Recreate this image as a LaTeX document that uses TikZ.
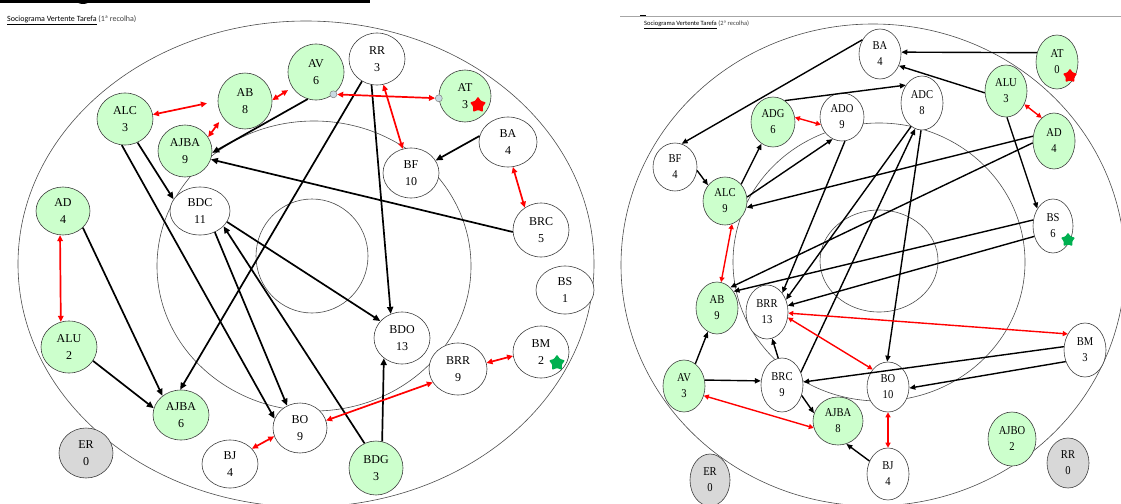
\documentclass[tikz,border=0pt]{standalone}
\usepackage{fontspec}
\setmainfont{Liberation Serif}
\newfontfamily\tfont{Carlito}
\newfontfamily\rfont[FakeStretch=0.88]{Liberation Serif}
\usetikzlibrary{shapes.geometric,arrows.meta}
\definecolor{lgreen}{RGB}{204,255,204}
\definecolor{lgray}{RGB}{216,216,216}
\definecolor{sgreen}{RGB}{0,176,80}
\definecolor{hcol}{RGB}{200,218,226}
\begin{document}
\begin{tikzpicture}[x=1pt,y=-1pt,
  nd/.style={ellipse, draw=black!75, line width=0.6pt, inner sep=0pt, align=center, font=\fontsize{12}{16.5}\selectfont},
  rnd/.style={nd, font=\rfont\fontsize{12}{16}\selectfont},
  gf/.style={fill=lgreen}, wf/.style={fill=white}, ef/.style={fill=lgray},
  sz/.style 2 args={minimum width=#1pt, minimum height=#2pt},
  ring/.style={draw=black!70, line width=0.6pt},
  bk/.style={draw=black, line width=1.7pt, -{Triangle[length=7pt,width=6pt]}},
  rbk/.style={draw=black, line width=1.4pt, -{Triangle[length=6pt,width=5pt]}},
  rd/.style={draw=red, line width=1.7pt, {Triangle[length=6pt,width=5.5pt]}-{Triangle[length=6pt,width=5.5pt]}},
  rrd/.style={draw=red, line width=1.4pt, {Triangle[length=5pt,width=5pt]}-{Triangle[length=5pt,width=5pt]}},
  handle/.style={circle, draw=black!50, fill=hcol, line width=0.5pt, inner sep=0pt, minimum size=7pt},
  starmark/.style={star, star points=5, star point ratio=1.7, inner sep=0pt, minimum size=17pt, rounded corners=1pt}
]
\useasboundingbox (0,0) rectangle (1121,503);
% header remnants
\fill[black] (0,0) rectangle (370,3);
\fill[black] (76,0) arc[start angle=180, end angle=360, x radius=7pt, y radius=4pt] -- cycle;
\draw[black!35, line width=0.8pt] (620,16) -- (1121,16);
\draw[black, line width=1pt] (640,15.5) -- (646,15.5);
% titles
\node[anchor=west, inner sep=0pt, font=\tfont\fontsize{8}{9}\selectfont] (t1) at (7,20) {\underline{Sociograma Vertente Tarefa} \textcolor{black!75}{(1ª recolha)}};
\node[anchor=west, inner sep=0pt, font=\tfont\fontsize{6.5}{8}\selectfont] (t2) at (644,25) {\underline{Sociograma Vertente Tarefa} \textcolor{black!75}{(2ª recolha)}};
% rings left
\draw[ring] (306,264) ellipse [x radius=288pt, y radius=243pt];
\draw[ring] (314,266) ellipse [x radius=157pt, y radius=145pt];
\draw[ring] (312,256) ellipse [x radius=56pt, y radius=57pt];
% rings right
\draw[ring] (873,265) ellipse [x radius=252pt, y radius=241pt];
\draw[ring] (879,262) ellipse [x radius=146pt, y radius=139pt];
\draw[ring] (879,261) ellipse [x radius=59pt, y radius=51pt];
% left nodes
\node[nd,gf,sz={56}{56}] (lAV) at (316,72) {AV\\6};
\node[nd,wf,sz={56}{52}] (lRR) at (377,59) {RR\\3};
\node[nd,gf,sz={52}{52}] (lAT) at (465,96) {AT\\3};
\node[nd,wf,sz={58}{50}] (lBA) at (508,142) {BA\\4};
\node[nd,wf,sz={56}{50}] (lBF) at (411,173) {BF\\10};
\node[nd,wf,sz={56}{54}] (lBRC) at (541,230) {BRC\\5};
\node[nd,wf,sz={58}{48}] (lBS) at (565,290) {BS\\1};
\node[nd,wf,sz={56}{52}] (lBM) at (541,352) {BM\\2};
\node[nd,wf,sz={58}{52}] (lBRR) at (458,369) {BRR\\9};
\node[nd,wf,sz={56}{52}] (lBDO) at (402,338) {BDO\\13};
\node[nd,wf,sz={54}{50}] (lBO) at (300,428) {BO\\9};
\node[nd,gf,sz={54}{54}] (lBDG) at (376,468) {BDG\\3};
\node[nd,wf,sz={56}{48}] (lBJ) at (230,464) {BJ\\4};
\node[nd,ef,sz={54}{50}] (lER) at (86,453) {ER\\0};
\node[nd,gf,sz={56}{50}] (lAJBAb) at (181,415) {AJBA\\6};
\node[nd,gf,sz={56}{52}] (lALU) at (69,347) {ALU\\2};
\node[nd,gf,sz={54}{48}] (lAD) at (63,211) {AD\\4};
\node[nd,wf,sz={60}{48}] (lBDC) at (200,211) {BDC\\11};
\node[nd,gf,sz={54}{52}] (lAJBA) at (185,151) {AJBA\\9};
\node[nd,gf,sz={56}{52}] (lALC) at (125,119) {ALC\\3};
\node[nd,gf,sz={54}{56}] (lAB) at (245,101) {AB\\8};
% left marks
\node[starmark, fill=red] (ls1) at (478,105) {};
\node[starmark, fill=sgreen] (ls2) at (557,363) {};
% left handles
\node[handle] (lh1) at (lAV.-52) {};
\node[handle] (lh2) at (lAT.185) {};
% left black arrows
\draw[bk] (lAV.253) -- (lAJBA.-4);
\draw[bk] (lBRC.184) -- (lAJBA.-18);
\draw[bk] (lBA.168) -- (lBF.27);
\draw[bk] (lALC.-62) -- (lBDC.156);
\draw[bk] (lALC.263) -- (lBO.160);
\draw[bk] (lRR.236) -- (lAJBAb.92);
\draw[bk] (lRR.258) -- (lBDO.115);
\draw[bk] (lBDC.-22) -- (lBDO.142);
\draw[bk] (lBDC.305) -- (lBO.120);
\draw[bk] (lBDG.115) -- (lBDC.-33);
\draw[bk] (lBDG.77) -- (lBDO.228);
\draw[bk] (lAD.-40) -- (lAJBAb.134);
\draw[bk] (lALU.-30) -- (lAJBAb.166);
% left red arrows
\draw[rd, shorten >=11pt] (lALC.9) -- (lAB.west);
\draw[rd, shorten >=5pt] (lAB.2) -- (lAV.213);
\draw[rd, shorten >=6pt] (lAJBA.31) -- (lAB.216);
\draw[rd] (lh1) -- (lh2);
\draw[rd] (lRR.-76) -- (lBF.109);
\draw[rd] (lBA.-79) -- (lBRC.126);
\draw[rd] (lBRR.12) -- (lBM.188);
\draw[rd] (lBO.16) -- (lBRR.208);
\draw[rd] (lBJ.35) -- (lBO.198);
\draw[rd] (lAD.263) -- (lALU.108);
% right nodes
\node[rnd,wf,sz={42}{50}] (rBA) at (880,54) {BA\\4};
\node[rnd,gf,sz={42}{54}] (rAT) at (1057,62) {AT\\0};
\node[rnd,gf,sz={42}{52}] (rALU) at (1006,91) {ALU\\3};
\node[rnd,gf,sz={42}{56}] (rAD) at (1054,141) {AD\\4};
\node[rnd,wf,sz={42}{54}] (rADC) at (922,103) {ADC\\8};
\node[rnd,wf,sz={40}{54}] (rBS) at (1053,226) {BS\\6};
\node[rnd,wf,sz={44}{48}] (rADO) at (842,117) {ADO\\9};
\node[rnd,gf,sz={44}{50}] (rADG) at (773,122) {ADG\\6};
\node[rnd,wf,sz={44}{48}] (rBF) at (675,167) {BF\\4};
\node[rnd,gf,sz={44}{48}] (rALC) at (725,201) {ALC\\9};
\node[rnd,gf,sz={42}{52}] (rAB) at (717,308) {AB\\9};
\node[rnd,wf,sz={42}{54}] (rBRR) at (767,312) {BRR\\13};
\node[rnd,gf,sz={42}{52}] (rAV) at (684,386) {AV\\3};
\node[rnd,wf,sz={42}{54}] (rBRC) at (782,385) {BRC\\9};
\node[rnd,gf,sz={50}{48}] (rAJBA) at (838,421) {AJBA\\8};
\node[rnd,wf,sz={42}{50}] (rBO) at (888,387) {BO\\10};
\node[rnd,wf,sz={42}{52}] (rBJ) at (888,474) {BJ\\4};
\node[rnd,ef,sz={40}{52}] (rER) at (710,480) {ER\\0};
\node[rnd,wf,sz={42}{54}] (rBM) at (1085,350) {BM\\3};
\node[rnd,gf,sz={48}{54}] (rAJBO) at (1012,439) {AJBO\\2};
\node[rnd,ef,sz={42}{50}] (rRR) at (1068,463) {RR\\0};
% right marks
\node[starmark, fill=red, minimum size=15pt] (rs1) at (1070,76) {};
\node[starmark, fill=sgreen, minimum size=15pt] (rs2) at (1068,240) {};
% right black arrows
\draw[rbk] (rAT.155) -- (rBA.5);
\draw[rbk] (rALU.185) -- (rBA.-32);
\draw[rbk] (rBA.141) -- (rBF.74);
\draw[rbk] (rADG.61) -- (rADC.132);
\draw[rbk] (rBF.-9) -- (rALC.137);
\draw[rbk] (rALC.46) -- (rADG.242);
\draw[rbk] (rALC.10) -- (rADO.247);
\draw[rbk] (rAD.167) -- (rALC.-17);
\draw[rbk] (rAD.185) -- (rAB.57);
\draw[rbk] (rALU.-88) -- (rBS.132);
\draw[rbk] (rBS.163) -- (rAB.45);
\draw[rbk] (rBS.209) -- (rBRR.17);
\draw[rbk] (rADO.-83) -- (rBRR.51);
\draw[rbk] (rADC.245) -- (rBRR.33);
\draw[rbk] (rBRC.34) -- (rADC.255);
\draw[rbk] (rADC.268) -- (rBO.92);
\draw[rbk] (rBM.171) -- (rBRC.8);
\draw[rbk] (rBM.211) -- (rBO.-3);
\draw[rbk] (rAV.16) -- (rBRC.169);
\draw[rbk] (rAV.63) -- (rAB.249);
\draw[rbk] (rBRC.98) -- (rBRR.281);
\draw[rbk] (rBRC.-28) -- (rAJBA.162);
\draw[rbk] (rBJ.145) -- (rAJBA.290);
% right red arrows
\draw[rrd] (rADG.12) -- (rADO.200);
\draw[rrd] (rALU.-36) -- (rAD.118);
\draw[rrd] (rALC.-73) -- (rAB.81);
\draw[rrd] (rBRR.-3) -- (rBM.137);
\draw[rrd] (rBRR.-15) -- (rBO.131);
\draw[rrd] (rAV.-26) -- (rAJBA.196);
\draw[rrd] (rBO.south) -- (rBJ.north);
\end{tikzpicture}
\end{document}
